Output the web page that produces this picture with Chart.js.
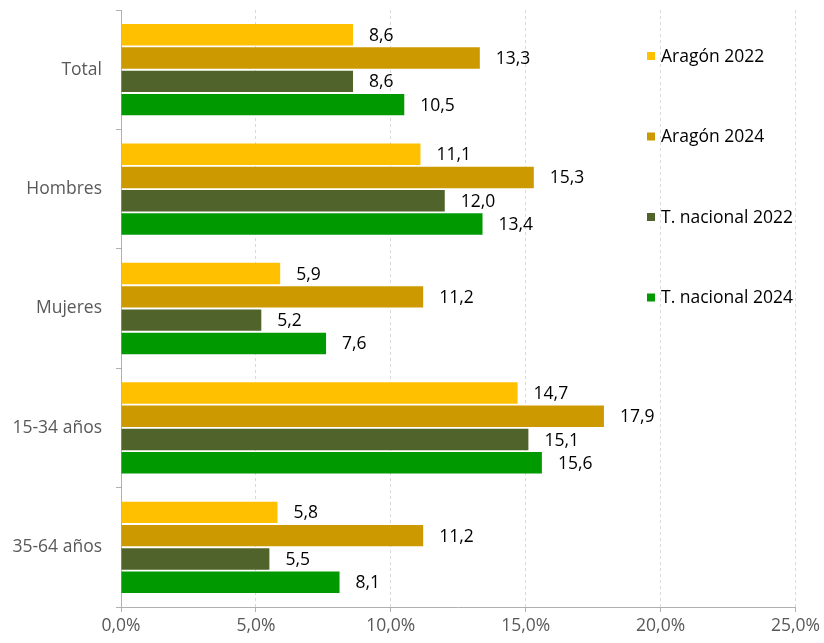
<!DOCTYPE html>
<html>
<head>
<meta charset="utf-8">
<script src="https://cdn.jsdelivr.net/npm/chart.js@4/dist/chart.umd.min.js"></script>
<style>
  body { margin: 0; background: #fff; }
  canvas { display: block; }
</style>
</head>
<body>
<canvas id="paroChart" width="824" height="643"></canvas>
<script>
const categories = ['Total', 'Hombres', 'Mujeres', '15-34 años', '35-64 años'];
const seriesNames = ['Aragón 2022', 'Aragón 2024', 'T. nacional 2022', 'T. nacional 2024'];
const aragon2022 = [8.6, 11.1, 5.9, 14.7, 5.8];
const aragon2024 = [13.3, 15.3, 11.2, 17.9, 11.2];
const nacional2022 = [8.6, 12.0, 5.2, 15.1, 5.5];
const nacional2024 = [10.5, 13.4, 7.6, 15.6, 8.1];
const xTicks = [0, 5, 10, 15, 20, 25];

const colors = ['#FFC000', '#CC9A00', '#50632A', '#009A00'];
const font = { family: '"Open Sans", sans-serif', size: 17.5 };
const axisGray = '#b0b0b0';

function fmt(v) {
    return v.toFixed(1).replace('.', ',');
}

// labels at the end of each bar
const barLabels = {
    id: 'barLabels',
    afterDatasetsDraw(chart) {
        const ctx = chart.ctx;
        ctx.save();
        ctx.font = `${font.size}px ${font.family}`;
        ctx.fillStyle = '#000';
        ctx.textAlign = 'left';
        ctx.textBaseline = 'middle';
        chart.data.datasets.forEach((ds, i) => {
            chart.getDatasetMeta(i).data.forEach((bar, j) => {
                ctx.fillText(fmt(ds.data[j]), bar.x + 16, bar.y + 1);
            });
        });
        ctx.restore();
    }
};

// vertical legend on the right, drawn over the plot
const sideLegend = {
    id: 'sideLegend',
    afterDraw(chart) {
        const ctx = chart.ctx;
        ctx.save();
        ctx.font = `${font.size}px ${font.family}`;
        ctx.textBaseline = 'middle';
        ctx.textAlign = 'left';
        chart.data.datasets.forEach((ds, i) => {
            const y = 56 + i * 80.5;
            ctx.fillStyle = ds.backgroundColor;
            ctx.fillRect(647, y - 4, 8, 8);
            ctx.fillStyle = '#000';
            ctx.fillText(ds.label, 661, y + 1);
        });
        ctx.restore();
    }
};

const allSeries = [aragon2022, aragon2024, nacional2022, nacional2024];

new Chart(document.getElementById('paroChart'), {
    type: 'bar',
    data: {
        labels: categories,
        datasets: allSeries.map((vals, i) => ({
            label: seriesNames[i],
            data: vals,
            backgroundColor: colors[i],
            barPercentage: 0.92,
            categoryPercentage: 0.78
        }))
    },
    options: {
        indexAxis: 'y',
        responsive: false,
        animation: false,
        devicePixelRatio: 1,
        layout: { padding: { top: 10, right: 27, left: 0, bottom: 0 } },
        plugins: {
            legend: { display: false },
            tooltip: { enabled: false }
        },
        scales: {
            x: {
                min: 0,
                max: 25,
                afterBuildTicks(scale) {
                    scale.ticks = xTicks.map(v => ({ value: v }));
                },
                afterFit(scale) { scale.height = 36; },
                ticks: {
                    color: '#595959',
                    font: font,
                    padding: 4,
                    callback: v => fmt(v) + '%'
                },
                grid: {
                    color: '#d9d9d9',
                    tickColor: axisGray,
                    tickLength: 5
                },
                border: { color: axisGray, dash: [3, 3] }
            },
            y: {
                afterFit(scale) {
                    scale.width = 121;
                    scale.paddingTop = 0;
                    scale.paddingBottom = 0;
                },
                ticks: {
                    color: '#595959',
                    font: font,
                    padding: 14
                },
                grid: {
                    offset: true,
                    drawOnChartArea: false,
                    tickColor: axisGray,
                    tickLength: 5
                },
                border: { color: axisGray }
            }
        }
    },
    plugins: [barLabels, sideLegend]
});
</script>
</body>
</html>
